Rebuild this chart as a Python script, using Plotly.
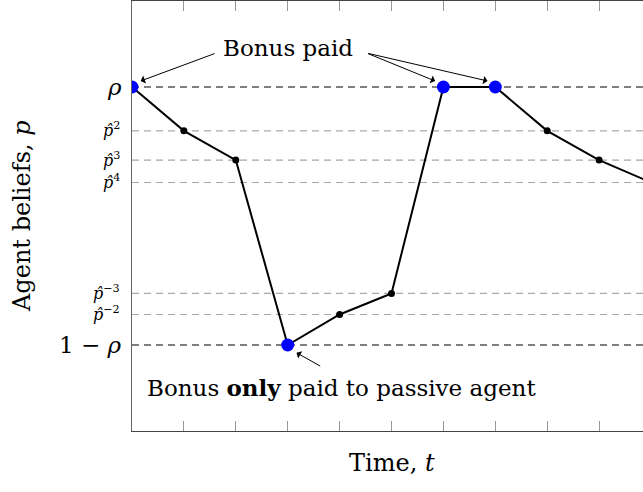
import plotly.graph_objects as go

# ---- data ----
rho = 0.80
one_minus_rho = 0.20
p_hat_2 = 0.698
p_hat_3 = 0.630
p_hat_4 = 0.578
p_hat_m3 = 0.320
p_hat_m2 = 0.271

time_t = [0, 1, 2, 3, 4, 5, 6, 7, 8, 9, 10]
beliefs = [rho, p_hat_2, p_hat_3, one_minus_rho, p_hat_m2, p_hat_m3, rho, rho, p_hat_2, p_hat_3, p_hat_4]
bonus_t = [0, 3, 6, 7]
bonus_p = [rho, one_minus_rho, rho, rho]
other_t = [1, 2, 4, 5, 8, 9, 10]
other_p = [p_hat_2, p_hat_3, p_hat_m2, p_hat_m3, p_hat_2, p_hat_3, p_hat_4]

major_levels = [rho, one_minus_rho]
major_labels = ["<i>ρ</i>", "1 − <i>ρ</i>"]
minor_levels = [p_hat_2, p_hat_3, p_hat_4, p_hat_m3, p_hat_m2]
minor_labels = ["<i>p̂</i><sup>2</sup>", "<i>p̂</i><sup>3</sup>", "<i>p̂</i><sup>4</sup>",
                "<i>p̂</i><sup>−3</sup>", "<i>p̂</i><sup>−2</sup>"]

FONT = "DejaVu Serif"
X_MAX = 9.846

fig = go.Figure()

# reference dashed levels
for lv in major_levels:
    fig.add_shape(type="line", xref="paper", yref="y", x0=0, x1=1, y0=lv, y1=lv,
                  line=dict(color="#555555", width=1.3, dash="7px,5px"), layer="below")
for lv in minor_levels:
    fig.add_shape(type="line", xref="paper", yref="y", x0=0, x1=1, y0=lv, y1=lv,
                  line=dict(color="#a8a8a8", width=1.1, dash="7px,5px"), layer="below")

fig.add_trace(go.Scatter(x=time_t, y=beliefs, mode="lines",
                         line=dict(color="black", width=2), hoverinfo="skip"))
fig.add_trace(go.Scatter(x=other_t, y=other_p, mode="markers",
                         marker=dict(color="black", size=7), hoverinfo="skip"))
fig.add_trace(go.Scatter(x=bonus_t, y=bonus_p, mode="markers",
                         marker=dict(color="#0000ff", size=13), hoverinfo="skip"))

ann = []
for lv, lb in zip(major_levels, major_labels):
    ann.append(dict(xref="paper", yref="y", x=0, y=lv, text=lb, showarrow=False,
                    xanchor="right", yanchor="middle", xshift=-8,
                    font=dict(family=FONT, size=23, color="black")))
for lv, lb in zip(minor_levels, minor_labels):
    ann.append(dict(xref="paper", yref="y", x=0, y=lv, text=lb, showarrow=False,
                    xanchor="right", yanchor="middle", xshift=-10, yshift=1,
                    font=dict(family=FONT, size=16, color="black")))

# "Bonus paid" text and arrows
ann.append(dict(xref="x", yref="y", x=3.0, y=0.89, text="Bonus paid", showarrow=False,
                font=dict(family=FONT, size=23, color="black")))
arrow_style = dict(showarrow=True, arrowhead=1, arrowsize=1.4, arrowwidth=1,
                   arrowcolor="black", axref="x", ayref="y", text="")
ann.append(dict(xref="x", yref="y", x=0.167, y=0.814, ax=1.62, ay=0.879, **arrow_style))
ann.append(dict(xref="x", yref="y", x=5.84, y=0.814, ax=4.52, ay=0.879, **arrow_style))
ann.append(dict(xref="x", yref="y", x=6.85, y=0.814, ax=4.52, ay=0.879, **arrow_style))

# passive agent annotation
ann.append(dict(xref="x", yref="y", x=3.17, y=0.182, ax=3.655, ay=0.149, **arrow_style))
ann.append(dict(xref="x", yref="y", x=0.25, y=0.102, text="Bonus <b>only</b> paid to passive agent",
                showarrow=False, xanchor="left", yanchor="middle",
                font=dict(family=FONT, size=23, color="black")))

# axis titles
ann.append(dict(xref="x", yref="paper", x=5, y=0, yshift=-32, text="Time, <i>t</i>",
                showarrow=False, yanchor="middle",
                font=dict(family=FONT, size=24, color="black")))
ann.append(dict(xref="paper", yref="paper", x=0, y=0.5, xshift=-110, text="Agent beliefs, <i>p</i>",
                showarrow=False, textangle=-90, xanchor="center", yanchor="middle",
                font=dict(family=FONT, size=24, color="black")))

fig.update_layout(
    width=643, height=492,
    margin=dict(l=132, r=0, t=1, b=61),
    paper_bgcolor="white", plot_bgcolor="white",
    showlegend=False,
    annotations=ann,
    xaxis=dict(range=[0, X_MAX], tickmode="array", tickvals=time_t, showticklabels=False,
               ticks="inside", ticklen=10, tickcolor="#999999", tickwidth=1,
               showline=True, linecolor="#444444", linewidth=1.3, mirror="ticks",
               showgrid=False, zeroline=False, fixedrange=True),
    yaxis=dict(range=[0, 1], showticklabels=False, ticks="",
               showline=True, linecolor="#666666", linewidth=1.3, mirror=False,
               showgrid=False, zeroline=False, fixedrange=True),
)

fig.write_html("out.html")
